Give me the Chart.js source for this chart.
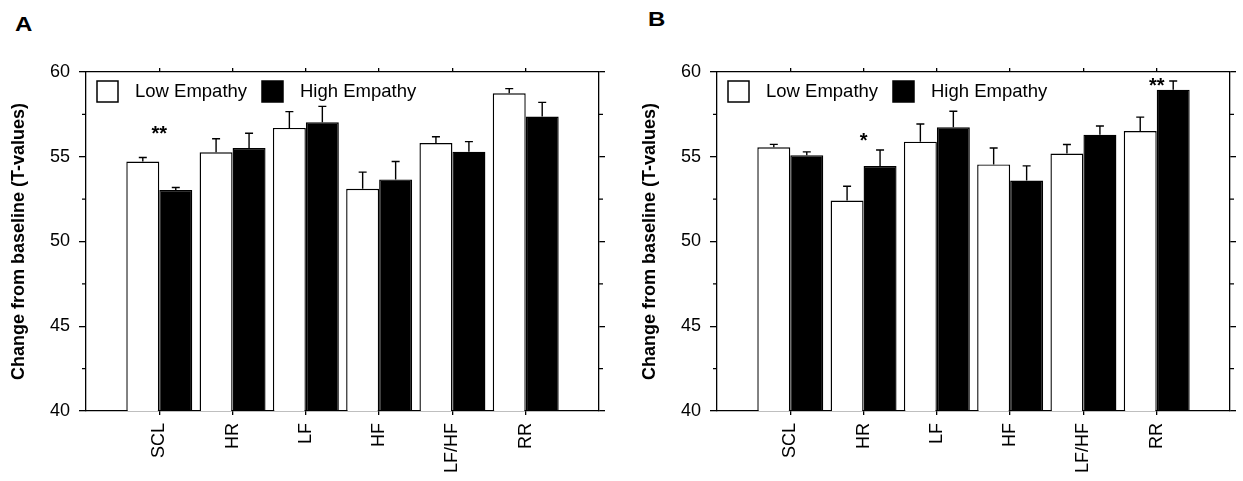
<!DOCTYPE html>
<html>
<head>
<meta charset="utf-8">
<script src="https://cdn.jsdelivr.net/npm/chart.js@4.4.1/dist/chart.umd.min.js"></script>
<style>
  body { margin: 0; background: #fff; width: 1243px; height: 481px; position: relative; overflow: hidden; font-family: "Liberation Sans", Arial, sans-serif; }
  .panel { position: absolute; top: 0; width: 612px; height: 481px; }
  .tag { position: absolute; font-weight: bold; font-size: 20px; line-height: 1; transform: scaleX(1.2); transform-origin: left top; }
</style>
</head>
<body>
<div class="tag" style="left:15px; top:14px;">A</div>
<div class="tag" style="left:648px; top:9px;">B</div>
<div class="panel" style="left:0px;"><canvas id="chartA" width="612" height="481"></canvas></div>
<div class="panel" style="left:631px;"><canvas id="chartB" width="612" height="481"></canvas></div>
<script>
// categories and values
const CATS = ['SCL', 'HR', 'LF', 'HF', 'LF/HF', 'RR'];
const SERIES = ['Low Empathy', 'High Empathy'];

const LOW_A = [54.72, 55.26, 56.70, 53.11, 55.81, 58.74];
const LOW_A_ERR = [0.24, 0.80, 0.96, 0.98, 0.37, 0.28];
const HIGH_A = [53.04, 55.52, 57.03, 53.66, 55.30, 57.37];
const HIGH_A_ERR = [0.15, 0.87, 0.94, 1.06, 0.59, 0.84];
const SIG_A = ['**', '', '', '', '', ''];
const SIG_A_POS = [56.0, null, null, null, null, null];

const LOW_B = [55.56, 52.42, 55.89, 54.55, 55.19, 56.52];
const LOW_B_ERR = [0.17, 0.84, 1.04, 0.97, 0.53, 0.82];
const HIGH_B = [55.09, 54.46, 56.74, 53.60, 56.30, 58.96];
const HIGH_B_ERR = [0.20, 0.94, 0.94, 0.86, 0.51, 0.51];
const SIG_B = ['', '*', '', '', '', '**'];
const SIG_B_POS = [null, 55.6, null, null, null, 58.8];

const Y_MIN = 40, Y_MAX = 60;
const MINOR_TICKS = [42.5, 47.5, 52.5, 57.5];

const FONT = '"Liberation Sans", Arial, sans-serif';
const INK = '#000';

// error bars (upward only, with a cap)
const errorBars = {
    id: 'errorBars',
    afterDatasetsDraw(chart) {
        const ctx = chart.ctx;
        const y = chart.scales.y;
        ctx.save();
        ctx.strokeStyle = INK;
        ctx.lineWidth = 1.4;
        chart.data.datasets.forEach((ds, i) => {
            const meta = chart.getDatasetMeta(i);
            meta.data.forEach((bar, j) => {
                const top = y.getPixelForValue(ds.data[j].y + ds.errors[j]);
                ctx.beginPath();
                ctx.moveTo(bar.x, bar.y);
                ctx.lineTo(bar.x, top);
                ctx.moveTo(bar.x - 4, top);
                ctx.lineTo(bar.x + 4, top);
                ctx.stroke();
            });
        });
        ctx.restore();
    }
};

// minor ticks on both y axes, plus legend and significance marks
const extras = {
    id: 'extras',
    afterDraw(chart) {
        const ctx = chart.ctx;
        const area = chart.chartArea;
        const y = chart.scales.y;
        const x = chart.scales.x;
        ctx.save();
        ctx.strokeStyle = INK;
        ctx.lineWidth = 1.3;
        MINOR_TICKS.forEach(v => {
            const py = y.getPixelForValue(v);
            ctx.beginPath();
            ctx.moveTo(area.left - 4, py);
            ctx.lineTo(area.left, py);
            ctx.moveTo(area.right, py);
            ctx.lineTo(area.right + 4, py);
            ctx.stroke();
        });

        // legend
        const lx = area.left + 11, ly = area.top + 9;
        ctx.font = '18.5px ' + FONT;
        ctx.textBaseline = 'middle';
        ctx.textAlign = 'left';
        const offs = [0, 165];
        chart.data.datasets.forEach((ds, i) => {
            const bx = lx + offs[i];
            ctx.fillStyle = ds.backgroundColor;
            ctx.fillRect(bx, ly, 21, 21);
            ctx.lineWidth = 1.5;
            ctx.strokeRect(bx, ly, 21, 21);
            ctx.fillStyle = INK;
            ctx.fillText(ds.label, bx + 38, ly + 11);
        });

        // significance stars
        const opts = chart.options.plugins.extras;
        ctx.font = 'bold 20px ' + FONT;
        ctx.textAlign = 'center';
        ctx.textBaseline = 'alphabetic';
        opts.sig.forEach((s, j) => {
            if (!s) return;
            ctx.fillText(s, x.getPixelForValue(j + 1), y.getPixelForValue(opts.sigPos[j]));
        });
        ctx.restore();
    }
};

function onlyCats(scale) {
    scale.ticks = CATS.map((c, i) => ({ value: i + 1 }));
}

function makeChart(id, low, lowErr, high, highErr, sig, sigPos) {
    return new Chart(document.getElementById(id), {
        type: 'bar',
        data: {
            datasets: [{
                label: SERIES[0],
                data: low.map((v, i) => ({ x: i + 1, y: v })),
                errors: lowErr,
                backgroundColor: '#fff',
                borderColor: INK,
                borderWidth: 1.4
            }, {
                label: SERIES[1],
                data: high.map((v, i) => ({ x: i + 1, y: v })),
                errors: highErr,
                backgroundColor: INK,
                borderColor: INK,
                borderWidth: 1.4
            }]
        },
        options: {
            responsive: false,
            animation: false,
            events: [],
            categoryPercentage: 0.9,
            barPercentage: 1.0,
            layout: { padding: 0 },
            plugins: {
                legend: { display: false },
                tooltip: { enabled: false },
                extras: { sig: sig, sigPos: sigPos }
            },
            scales: {
                x: {
                    type: 'linear',
                    position: 'bottom',
                    min: 0,
                    max: 7,
                    offset: false,
                    afterBuildTicks: onlyCats,
                    afterFit: s => { s.height = 70; },
                    grid: { offset: false, drawOnChartArea: false, tickLength: 4, color: INK, lineWidth: 1.3 },
                    border: { color: INK, width: 1.3 },
                    ticks: {
                        callback: v => CATS[v - 1] || '',
                        minRotation: 90,
                        maxRotation: 90,
                        padding: 8,
                        color: INK,
                        font: { family: FONT, size: 18 }
                    }
                },
                x2: {
                    type: 'linear',
                    axis: 'x',
                    position: 'top',
                    min: 0,
                    max: 7,
                    offset: false,
                    afterBuildTicks: onlyCats,
                    afterFit: s => { s.height = 72; },
                    grid: { offset: false, drawOnChartArea: false, tickLength: 4, color: INK, lineWidth: 1.3 },
                    border: { color: INK, width: 1.3 },
                    ticks: { display: false }
                },
                y: {
                    position: 'left',
                    min: Y_MIN,
                    max: Y_MAX,
                    afterFit: s => { s.width = 86; },
                    grid: { drawOnChartArea: false, tickLength: 7, color: INK, lineWidth: 1.3 },
                    border: { color: INK, width: 1.3 },
                    ticks: {
                        stepSize: 5,
                        padding: 9,
                        color: INK,
                        font: { family: FONT, size: 18 }
                    },
                    title: {
                        display: true,
                        text: 'Change from baseline (T-values)',
                        color: INK,
                        padding: { top: 8, bottom: 0 },
                        font: { family: FONT, size: 18, weight: 'bold' }
                    }
                },
                y2: {
                    position: 'right',
                    axis: 'y',
                    min: Y_MIN,
                    max: Y_MAX,
                    afterFit: s => { s.width = 13; },
                    grid: { drawOnChartArea: false, tickLength: 6, color: INK, lineWidth: 1.3 },
                    border: { color: INK, width: 1.3 },
                    ticks: { stepSize: 5, display: false }
                }
            }
        },
        plugins: [errorBars, extras]
    });
}

makeChart('chartA', LOW_A, LOW_A_ERR, HIGH_A, HIGH_A_ERR, SIG_A, SIG_A_POS);
makeChart('chartB', LOW_B, LOW_B_ERR, HIGH_B, HIGH_B_ERR, SIG_B, SIG_B_POS);
</script>
</body>
</html>
